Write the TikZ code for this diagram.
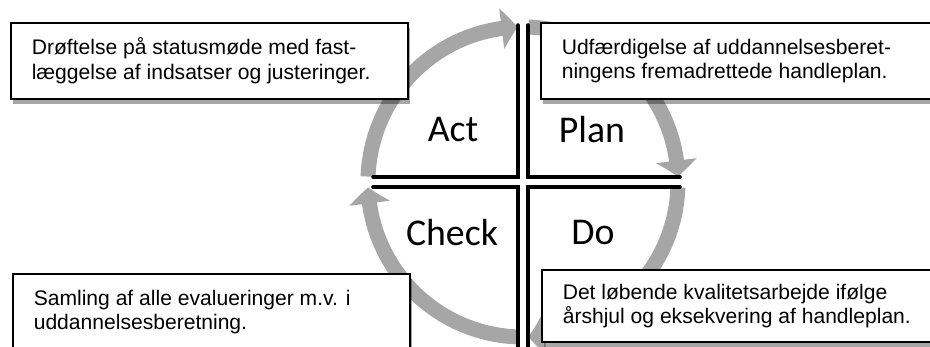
\documentclass[tikz,border=0pt]{standalone}
\usepackage{fontspec}
\setmainfont{Liberation Sans}
\newfontfamily\calibri{Carlito}
\usetikzlibrary{arrows.meta,bending,shadows}
\definecolor{ringgray}{RGB}{166,166,166}
\tikzstyle{note} = [draw=black, line width=0.9pt, fill=white, rectangle,
    anchor=north west, minimum width=7.94cm, minimum height=1.52cm,
    text width=7.1cm, inner xsep=0.42cm, align=flush left,
    font=\fontsize{12}{13.9}\selectfont,
    drop shadow={shadow xshift=1.5pt, shadow yshift=-3pt, opacity=0.35, fill=black}]
\tikzstyle{ring} = [draw=ringgray, line width=0.3cm,
    -{Triangle[width=0.8cm,length=0.32cm,bend]}]
\tikzstyle{cross} = [draw=black, line width=2pt, line join=miter, line cap=round]
\tikzstyle{phase} = [font=\calibri\fontsize{21.5}{24}\selectfont]

\begin{document}
\begin{tikzpicture}[x=0.02cm, y=0.02cm]
\useasboundingbox (-523,-165) rectangle (407,182);
\clip (-523,-165) rectangle (407,182);

\coordinate (O) at (0,0);
\coordinate (TL) at (-513,160);
\coordinate (TR) at (17,160);
\coordinate (BL) at (-511,-91);
\coordinate (BR) at (18,-87);

\draw[ring] (178:155) arc (178:92:155);
\draw[ring] (88:155) arc (88:2:155);
\draw[ring] (-2:155) arc (-2:-88:155);
\draw[ring] (-92:155) arc (-92:-178:155);

\draw[cross] (-150,5) -- (-5,5) -- (-5,157);
\draw[cross] (5,157) -- (5,5) -- (157,5);
\draw[cross] (-150,-5) -- (-5,-5) -- (-5,-175);
\draw[cross] (157,-5) -- (5,-5) -- (5,-175);

\node[phase, name=act] at (-70,52) {Act};
\node[phase, name=plan] at (69,52) {Plan};
\node[phase, name=check] at (-71,-51) {Check};
\node[phase, name=do] at (70,-51) {Do};

\node[note, name=actnote] at (TL) {Drøftelse på statusmøde med fast-\\læggelse af indsatser og justeringer.};
\node[note, name=plannote] at (TR) {Udfærdigelse af uddannelsesberet-\\ningens fremadrettede handleplan.};
\node[note, name=checknote] at (BL) {Samling af alle evalueringer m.v. i\\uddannelsesberetning.};
\node[note, name=donote, minimum height=1.45cm] at (BR) {Det løbende kvalitetsarbejde ifølge\\årshjul og eksekvering af handleplan.};

\end{tikzpicture}
\end{document}
